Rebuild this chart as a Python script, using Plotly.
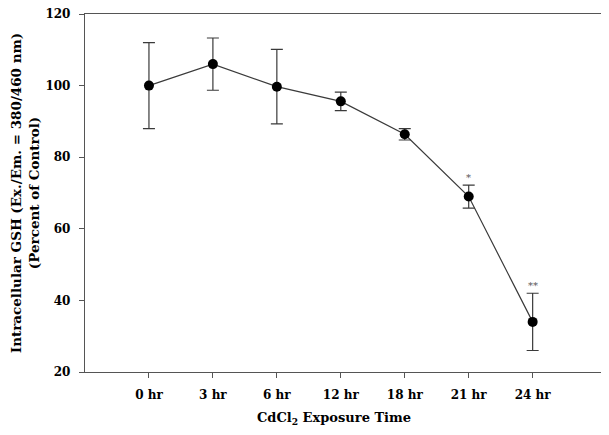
import plotly.graph_objects as go

categories = ["0 hr", "3 hr", "6 hr", "12 hr", "18 hr", "21 hr", "24 hr"]
gsh_mean = [100.0, 106.0, 99.7, 95.6, 86.4, 69.0, 34.0]
gsh_err = [12.0, 7.3, 10.4, 2.6, 1.6, 3.2, 8.0]
sig_labels = ["", "", "", "", "", "*", "**"]
y_ticks = [20, 40, 60, 80, 100, 120]

x_idx = list(range(len(categories)))
FONT = "DejaVu Serif"

fig = go.Figure()
fig.add_trace(go.Scatter(
    x=x_idx, y=gsh_mean,
    mode="lines+markers",
    line=dict(color="#3a3a3a", width=1.2),
    marker=dict(color="black", size=10),
    error_y=dict(type="data", array=gsh_err, visible=True, color="#3a3a3a",
                 thickness=1.2, width=6),
    showlegend=False,
))

for i, lab in enumerate(sig_labels):
    if lab:
        fig.add_annotation(x=x_idx[i], y=gsh_mean[i] + gsh_err[i], text=lab,
                           showarrow=False, yshift=8,
                           font=dict(family=FONT, size=10, color="#555"))

fig.add_annotation(xref="paper", yref="paper", x=0.481, y=0, yshift=-46,
                   xanchor="center", yanchor="middle", showarrow=False,
                   text="CdCl<sub>2</sub> Exposure Time",
                   font=dict(family=FONT, size=13, weight="bold", color="black"))

# page has an 8px body margin, so the figure is shrunk and shifted to fit the window
fig.update_layout(
    width=601, height=427,
    margin=dict(l=77, r=6, t=6, b=63),
    paper_bgcolor="white", plot_bgcolor="white",
    font=dict(family=FONT, color="black"),
    xaxis=dict(
        range=[-1, 7.1], tickmode="array", tickvals=x_idx, ticktext=categories,
        ticks="outside", ticklen=5, tickcolor="#555", tickwidth=1,
        showline=True, linecolor="#555", linewidth=1.3, mirror=True,
        showgrid=False, zeroline=False, automargin=False,
        tickfont=dict(family=FONT, size=12, weight="bold"),
        ticklabelstandoff=6, ticklabeloverflow="allow",
    ),
    yaxis=dict(
        range=[20, 120], tickmode="array", tickvals=y_ticks,
        ticks="outside", ticklen=5, tickcolor="#555", tickwidth=1,
        showline=True, linecolor="#555", linewidth=1.3, mirror=True,
        showgrid=False, zeroline=False, automargin=False,
        tickfont=dict(family=FONT, size=12, weight="bold"),
        ticklabelstandoff=6, ticklabeloverflow="allow",
        title=dict(text="Intracellular GSH (Ex./Em. = 380/460 nm)<br>(Percent of Control)",
                   font=dict(family=FONT, size=13.5, weight="bold"), standoff=5),
    ),
)

fig.write_html("out.html")
